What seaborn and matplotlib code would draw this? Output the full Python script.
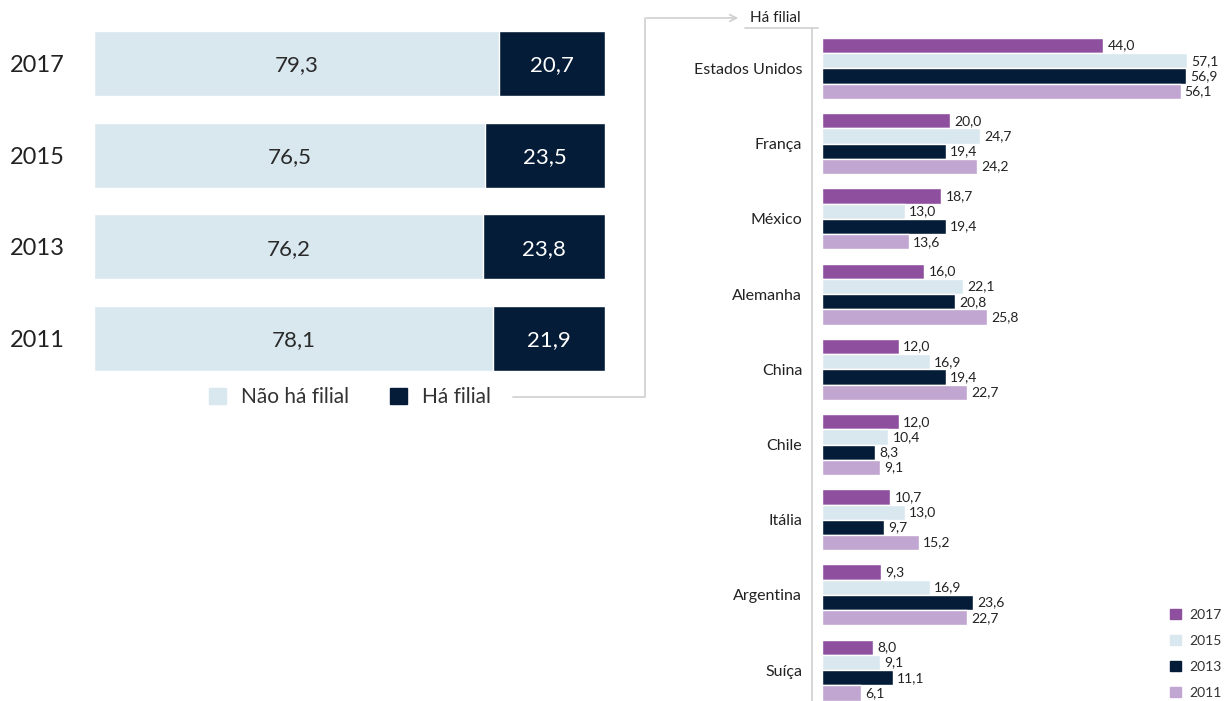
import numpy as np
import pandas as pd
import seaborn as sns
import matplotlib.pyplot as plt
from matplotlib.lines import Line2D
from matplotlib.patches import Patch

# left chart: share of companies with / without a subsidiary abroad
anos = ['2017', '2015', '2013', '2011']
nao_ha_filial = [79.3, 76.5, 76.2, 78.1]
ha_filial = [20.7, 23.5, 23.8, 21.9]

# right chart: countries where subsidiaries are located
paises = ['Estados Unidos', 'França', 'México', 'Alemanha', 'China',
          'Chile', 'Itália', 'Argentina', 'Suíça']
v2017 = [44.0, 20.0, 18.7, 16.0, 12.0, 12.0, 10.7, 9.3, 8.0]
v2015 = [57.1, 24.7, 13.0, 22.1, 16.9, 10.4, 13.0, 16.9, 9.1]
v2013 = [56.9, 19.4, 19.4, 20.8, 19.4, 8.3, 9.7, 23.6, 11.1]
v2011 = [56.1, 24.2, 13.6, 25.8, 22.7, 9.1, 15.2, 22.7, 6.1]

roxo = '#8E4F9E'
azul_claro = '#D9E7EF'
marinho = '#051C38'
lilas = '#C0A6D0'
cinza = '#CFCFCF'
texto = '#222222'

sns.set_theme(style='white')
plt.rcParams['font.family'] = ['Lato', 'DejaVu Sans']

W, H = 1224, 701
fig = plt.figure(figsize=(W / 100, H / 100), dpi=100)


def fx(px):
    return px / W


def fy(py):
    return 1 - py / H


def fmt(v):
    return f'{v:.1f}'.replace('.', ',')


# ---------- left: stacked bars ----------
ax1 = fig.add_axes([fx(94), fy(371), fx(605 - 94), (371 - 31) / H])
total = [a + b for a, b in zip(nao_ha_filial, ha_filial)]
df_l = pd.DataFrame({'ano': anos, 'total': total, 'nao': nao_ha_filial, 'ha': ha_filial})
sns.barplot(data=df_l, x='total', y='ano', color=marinho, width=0.709,
            saturation=1, ax=ax1)
sns.barplot(data=df_l, x='nao', y='ano', color=azul_claro, width=0.709,
            saturation=1, ax=ax1)
ax1.set_xlim(0, 100)
ax1.set_ylim(3 + 0.3545, -0.3545)
for i, (n, h) in enumerate(zip(nao_ha_filial, ha_filial)):
    ax1.text(n / 2, i, fmt(n), ha='center', va='center_baseline',
             fontsize=16, color='#2a2a2a')
    ax1.text(n + h / 2, i, fmt(h), ha='center', va='center_baseline',
             fontsize=16, color='white')
# year labels flush left at the figure edge
for i, a in enumerate(anos):
    ax1.text(fx(10), i, a, transform=ax1.get_yaxis_transform().__class__(
        fig.transFigure, ax1.transData), ha='left', va='center_baseline',
        fontsize=17, color=texto)
ax1.set_xlabel('')
ax1.set_ylabel('')
ax1.set_xticks([])
ax1.set_yticks([])
sns.despine(ax=ax1, left=True, bottom=True)

fig.legend(handles=[Patch(color=azul_claro, label='Não há filial'),
                    Patch(color=marinho, label='Há filial')],
           loc='center', bbox_to_anchor=(fx(350), fy(397)), ncol=2, frameon=False,
           fontsize=15, handlelength=0.8, handleheight=0.8, columnspacing=2.0,
           handletextpad=0.7, labelcolor='#333333')

# ---------- right: grouped horizontal bars ----------
ax2 = fig.add_axes([fx(812), 0, fx(W - 812), (H - 28) / H])
df_r = pd.DataFrame({'pais': paises * 4,
                     'ano': ['2017'] * 9 + ['2015'] * 9 + ['2013'] * 9 + ['2011'] * 9,
                     'valor': v2017 + v2015 + v2013 + v2011})
sns.barplot(data=df_r, x='valor', y='pais', hue='ano', hue_order=anos,
            palette=[roxo, azul_claro, marinho, lilas], width=0.81, saturation=1,
            orient='h', ax=ax2, legend=False)
for cont, vals in zip(ax2.containers, [v2017, v2015, v2013, v2011]):
    ax2.bar_label(cont, labels=[fmt(v) for v in vals],
                  padding=3, fontsize=10, color=texto)
ax2.set_xlim(-1.56, 62.9)
ax2.set_ylim(8.41, -0.538)
ax2.set_xlabel('')
ax2.set_ylabel('')
ax2.set_xticks([])
ax2.tick_params(axis='y', length=0, pad=7, labelsize=11.5, labelcolor=texto)
ax2.set_yticks(np.arange(len(paises) - 1) + 0.5, minor=True)
ax2.tick_params(axis='y', which='minor', direction='in', length=5, color=cinza, width=1)
sns.despine(ax=ax2, top=True, right=True, bottom=True)
ax2.spines['left'].set_color(cinza)
ax2.spines['left'].set_linewidth(1.2)

fig.legend(handles=[Patch(color=c, label=a) for c, a in
                    zip([roxo, azul_claro, marinho, lilas], anos)],
           loc='upper left', bbox_to_anchor=(fx(1160), fy(599)), frameon=False,
           fontsize=10, handlelength=0.8, handleheight=0.8, labelspacing=1.0,
           handletextpad=0.6, labelcolor='#333333', borderpad=0.2)

# ---------- connector ----------
fig.add_artist(Line2D([fx(513), fx(645), fx(645)], [fy(397), fy(397), fy(18)],
                      transform=fig.transFigure, color=cinza, lw=1.2))
fig.add_artist(Line2D([fx(745), fx(818)], [fy(28), fy(28)],
                      transform=fig.transFigure, color=cinza, lw=1.2))
ax2.annotate('', xy=(fx(741), fy(18)), xytext=(fx(644), fy(18)),
             xycoords='figure fraction', textcoords='figure fraction',
             arrowprops=dict(arrowstyle='->', color=cinza, lw=1.2))
fig.text(fx(750), fy(18), 'Há filial', fontsize=11, color=texto, va='center')

fig.savefig('out.png', dpi=100)
